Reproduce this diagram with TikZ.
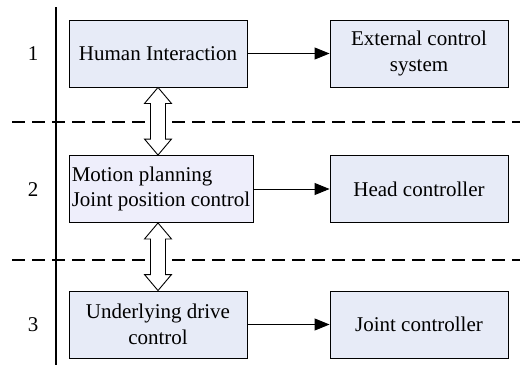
\documentclass[tikz,border=0pt]{standalone}
\usepackage{fontspec}
\setmainfont{Liberation Serif}
\usetikzlibrary{arrows.meta,calc}
\definecolor{boxfill}{HTML}{E7EBF7}
\definecolor{boxfillb}{HTML}{EEEEFB}
\tikzset{
  layerbox/.style={draw=black, line width=0.9pt, fill=boxfill, minimum width=178pt,
    minimum height=67pt, inner sep=2pt, align=center,
    font=\fontsize{21}{25.7}\selectfont},
  layernum/.style={font=\fontsize{21}{25.7}\selectfont, inner sep=0pt},
  flow/.style={line width=0.9pt, -{Triangle[length=15pt,width=12pt]}},
  divider/.style={line width=1.3pt, dash pattern=on 13pt off 7pt},
  axis/.style={line width=1.4pt},
  dblarrow/.style={draw=black, line width=0.9pt, fill=white}
}
\begin{document}
\begin{tikzpicture}[x=1pt,y=-1pt]
\useasboundingbox (0,0) rectangle (520,365);

% layer separators and the left axis
\draw[divider] (12,122) -- (520,122);
\draw[divider] (12,260) -- (520,260);
\draw[axis] (56,7) -- (56,365);

% layer numbers
\node[layernum] (n1) at (33,54) {1};
\node[layernum] (n2) at (33,190) {2};
\node[layernum] (n3) at (33,325) {3};

% boxes
\node[layerbox] (hi) at (158,53.5) {Human Interaction};
\node[layerbox] (ext) at (419,53.5) {External control\\system};
\node[layerbox, fill=boxfillb, minimum width=184pt, align=left, inner sep=1pt] (mp) at (161,189)
  {Motion planning\\Joint position control};
\node[layerbox] (head) at (419,189) {Head controller};
\node[layerbox] (ud) at (158,324.5) {Underlying drive\\control};
\node[layerbox] (jc) at (419,324.5) {Joint controller};

% horizontal links
\draw[flow] (hi.east) -- (ext.west);
\draw[flow] (mp.east) -- (head.west);
\draw[flow] (ud.east) -- (jc.west);

% hollow two-way arrows between layers
\coordinate (a1) at (hi.south);
\coordinate (a2) at (hi.south |- mp.north);
\draw[dblarrow] (a1) -- ++(13.5,16) -- ++(-6,0) -- ($(a2)+(7.5,-16)$) -- ++(6,0)
  -- (a2) -- ++(-13.5,-16) -- ++(6,0) -- ($(a1)+(-7.5,16)$) -- ++(-6,0) -- cycle;

\coordinate (b1) at (ud.north |- mp.south);
\coordinate (b2) at (ud.north);
\draw[dblarrow] (b1) -- ++(13.5,16) -- ++(-6,0) -- ($(b2)+(7.5,-16)$) -- ++(6,0)
  -- (b2) -- ++(-13.5,-16) -- ++(6,0) -- ($(b1)+(-7.5,16)$) -- ++(-6,0) -- cycle;
\end{tikzpicture}
\end{document}
